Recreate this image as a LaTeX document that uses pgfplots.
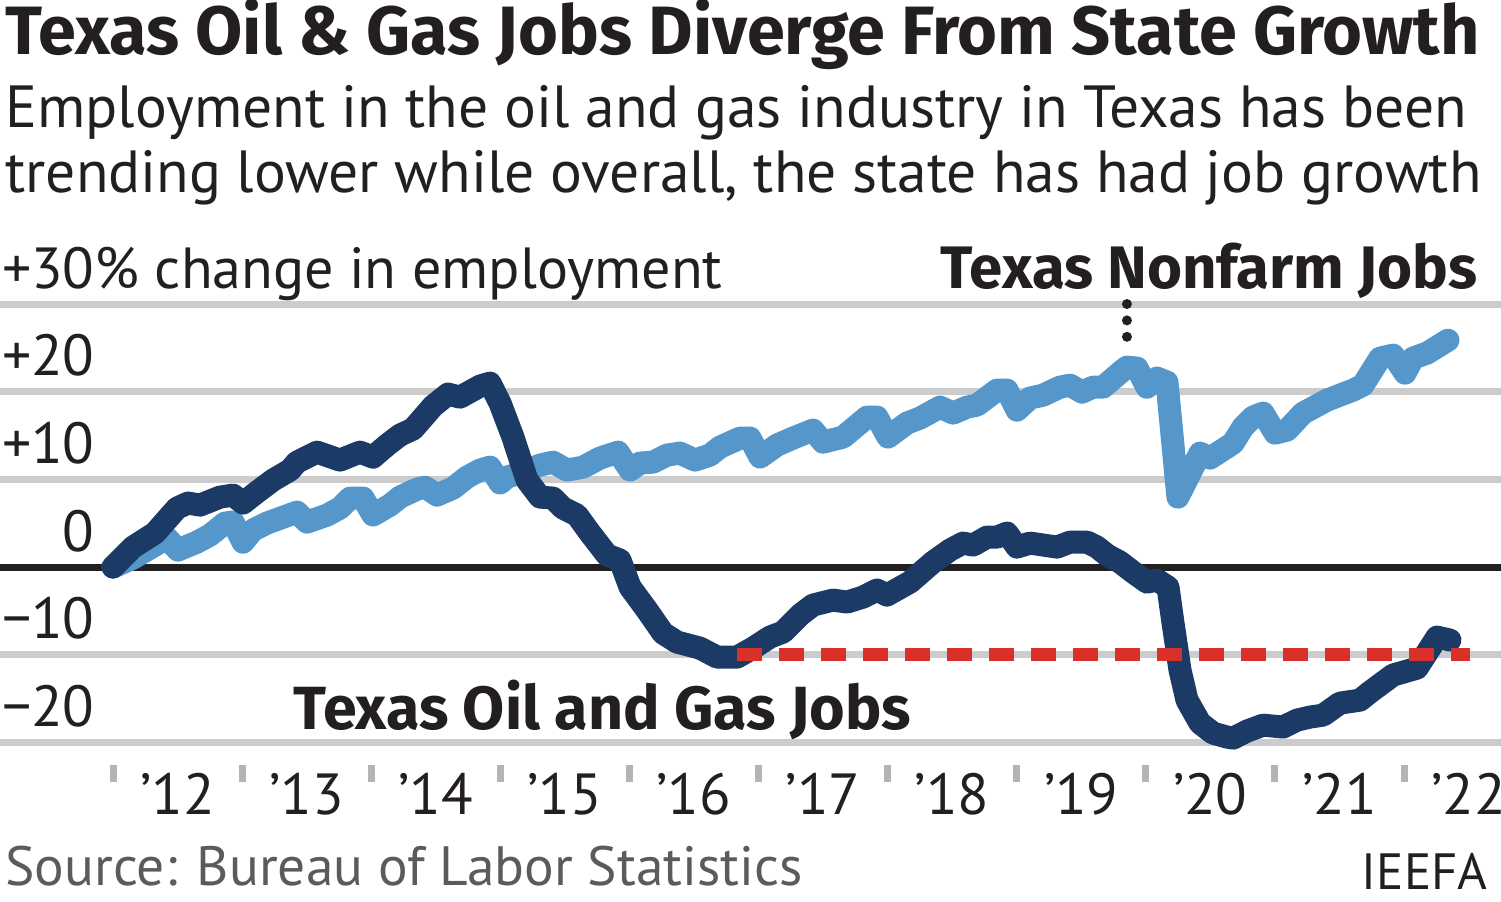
\documentclass[border=0pt]{standalone}
\usepackage{pgfplots}
\pgfplotsset{compat=1.18}
\usepackage{fontspec}
\setmainfont{PT Sans}
\newfontfamily\boldfont{Fira Sans}
\definecolor{navy}{HTML}{1B3B66}
\definecolor{lblue}{HTML}{5596CB}
\definecolor{dred}{HTML}{D9302A}
\definecolor{gridg}{HTML}{CCCCCC}
\definecolor{tickg}{HTML}{B4B4B4}
\definecolor{txt}{HTML}{231F20}
\definecolor{srcg}{HTML}{5A5B5D}
\begin{document}
\begin{tikzpicture}
\begin{axis}[
  at={(0pt,79.25pt)}, anchor=south west,
  scale only axis, width=750.5pt, height=219.25pt,
  xmin=-0.8753, xmax=10.7514, ymin=-20, ymax=30,
  clip=false,
  axis line style={draw=none},
  major tick length=0pt,
  ytick={-20,-10,0,10,20,30},
  yticklabels={−20,−10,0,+10,+20,{+30\rlap{\% change in employment}}},
  yticklabel style={anchor=base east, inner sep=0pt, xshift=47.5pt, yshift=8pt, font=\fontsize{29}{31}\selectfont, text=txt},
  xtick={0.5,1.5,2.5,3.5,4.5,5.5,6.5,7.5,8.5,9.5,10.5},
  xticklabels={’12,’13,’14,’15,’16,’17,’18,’19,’20,’21,’22},
  xticklabel style={anchor=base, inner sep=0pt, yshift=-36pt, font=\fontsize{29}{31}\selectfont, text=txt},
  ymajorgrids, grid style={gridg, line width=3.5pt},
  /pgf/number format/assume math mode=true,
]
% zero line
\addplot[draw=txt, line width=3.5pt] coordinates {(-0.8753,0) (10.7514,0)};
% year tick marks
\pgfplotsinvokeforeach{0,1,2,3,4,5,6,7,8,9,10}{
  \draw[tickg, line width=3.5pt] (axis cs:#1,-22.54) -- (axis cs:#1,-24.48);
}
% Texas nonfarm jobs
\addplot[draw=lblue, line width=11.5pt, line join=round, line cap=round] coordinates {
(0.000,0.00) (0.155,1.03) (0.418,3.31) (0.503,1.94) (0.651,2.85) (0.751,3.65)
(0.868,5.02) (0.930,5.13) (1.007,2.85) (1.084,4.22) (1.193,5.02) (1.425,6.27)
(1.503,5.13) (1.658,5.93) (1.758,6.73) (1.836,7.87) (1.937,7.87) (2.014,5.93)
(2.146,7.07) (2.223,7.98) (2.355,8.89) (2.417,9.12) (2.510,8.21) (2.634,9.01)
(2.742,10.26) (2.843,11.06) (2.920,11.40) (2.998,9.58) (3.052,10.26) (3.153,10.72)
(3.308,11.63) (3.408,11.97) (3.517,11.06) (3.641,11.40) (3.772,12.43) (3.912,13.11)
(4.005,11.06) (4.082,11.86) (4.183,11.97) (4.291,12.77) (4.392,13.00) (4.508,12.20)
(4.624,12.77) (4.702,13.68) (4.857,14.71) (4.934,14.71) (5.012,12.54) (5.143,13.91)
(5.267,14.71) (5.422,15.62) (5.500,14.25) (5.655,14.82) (5.840,17.10) (5.918,17.10)
(6.003,14.82) (6.150,16.42) (6.251,16.99) (6.406,18.24) (6.507,17.56) (6.615,18.24)
(6.693,18.47) (6.847,20.18) (6.925,20.18) (7.002,17.90) (7.103,19.27) (7.204,19.61)
(7.335,20.52) (7.413,20.75) (7.506,19.95) (7.591,20.52) (7.669,20.52) (7.823,22.46)
(7.854,22.81) (7.932,22.69) (8.009,20.52) (8.087,21.55) (8.164,21.09) (8.249,7.98)
(8.420,13.00) (8.497,12.43) (8.629,13.68) (8.676,14.14) (8.753,15.96) (8.830,17.10)
(8.908,17.56) (9.001,15.28) (9.094,15.62) (9.218,17.56) (9.404,19.04) (9.504,19.61)
(9.605,20.18) (9.682,20.75) (9.814,23.83) (9.915,24.17) (10.008,22.12) (10.070,23.83)
(10.178,24.40) (10.341,25.88)
};
% Texas oil and gas jobs
\addplot[draw=navy, line width=11.5pt, line join=round, line cap=round] coordinates {
(0.000,0.00) (0.155,2.28) (0.325,3.88) (0.496,6.73) (0.581,7.30) (0.674,7.07)
(0.829,7.98) (0.930,8.21) (1.007,7.30) (1.115,8.55) (1.239,9.92) (1.371,11.06)
(1.425,11.97) (1.580,13.11) (1.758,12.20) (1.913,13.11) (2.014,12.54) (2.122,13.91)
(2.223,15.05) (2.324,15.74) (2.479,18.36) (2.595,19.73) (2.688,19.38) (2.843,20.64)
(2.920,20.98) (2.998,18.70) (3.098,14.82) (3.207,9.92) (3.308,7.98) (3.408,7.87)
(3.486,6.73) (3.594,5.93) (3.695,3.88) (3.827,1.37) (3.927,0.80) (4.005,-2.28)
(4.136,-4.90) (4.260,-7.53) (4.369,-8.55) (4.547,-9.24) (4.679,-10.26) (4.834,-10.26)
(4.957,-9.24) (5.089,-7.98) (5.190,-7.41) (5.321,-5.47) (5.422,-4.33) (5.577,-3.76)
(5.686,-3.99) (5.809,-3.42) (5.918,-2.62) (5.995,-3.19) (6.174,-1.71) (6.352,0.57)
(6.483,1.94) (6.584,2.74) (6.662,2.51) (6.770,3.42) (6.847,3.42) (6.925,3.88)
(7.002,2.28) (7.103,2.74) (7.312,2.28) (7.413,2.85) (7.545,2.85) (7.622,2.28)
(7.700,1.37) (7.800,0.57) (7.901,-0.57) (8.009,-1.71) (8.087,-1.48) (8.172,-2.28)
(8.211,-6.39) (8.265,-11.74) (8.319,-15.17) (8.420,-17.79) (8.521,-18.93) (8.629,-19.38)
(8.676,-19.50) (8.784,-18.70) (8.908,-18.02) (9.063,-18.24) (9.171,-17.45) (9.272,-17.10)
(9.373,-16.88) (9.504,-15.51) (9.659,-15.17) (9.737,-14.25) (9.915,-12.31) (10.101,-11.52)
(10.256,-7.98) (10.356,-8.32)
};
% red dashed reference (drawn over the lines, as in the original)
\addplot[draw=dred, line width=6.5pt, dash pattern=on 12.5pt off 8.5pt] coordinates {(4.834,-10) (10.511,-10)};
% dotted leader to nonfarm peak
\draw[txt, line width=5pt, line cap=round, dash pattern=on 0pt off 8.2pt] (axis cs:7.854,30.0) -- (axis cs:7.854,24.4);
\end{axis}
% titles and labels
\node[anchor=base west, inner sep=0pt, text=txt, font=\boldfont\bfseries\fontsize{34.2}{36}\selectfont] at (2.5pt,423pt) {Texas Oil \& Gas Jobs Diverge From State Growth};
\node[anchor=base west, inner sep=0pt, text=txt, font=\fontsize{29.75}{31}\selectfont] at (2.5pt,386.5pt) {Employment in the oil and gas industry in Texas has been};
\node[anchor=base west, inner sep=0pt, text=txt, font=\fontsize{29.75}{31}\selectfont] at (2.5pt,354pt) {trending lower while overall, the state has had job growth};
\node[anchor=base east, inner sep=0pt, text=txt, font=\boldfont\bfseries\fontsize{30}{32}\selectfont] at (739pt,306pt) {Texas Nonfarm Jobs};
\node[anchor=base west, inner sep=0pt, text=txt, font=\boldfont\bfseries\fontsize{30.5}{32}\selectfont] at (146.5pt,85.5pt) {Texas Oil and Gas Jobs};
\node[anchor=base west, inner sep=0pt, text=srcg, font=\fontsize{27.7}{29}\selectfont] at (2.5pt,8pt) {Source: Bureau of Labor Statistics};
\node[anchor=base east, inner sep=0pt, text=txt, font=\fontsize{25.5}{27}\selectfont] at (744pt,6pt) {IEEFA};
\pgfresetboundingbox
\useasboundingbox (0pt,0pt) rectangle (750.5pt,450.5pt);
\end{tikzpicture}
\end{document}
